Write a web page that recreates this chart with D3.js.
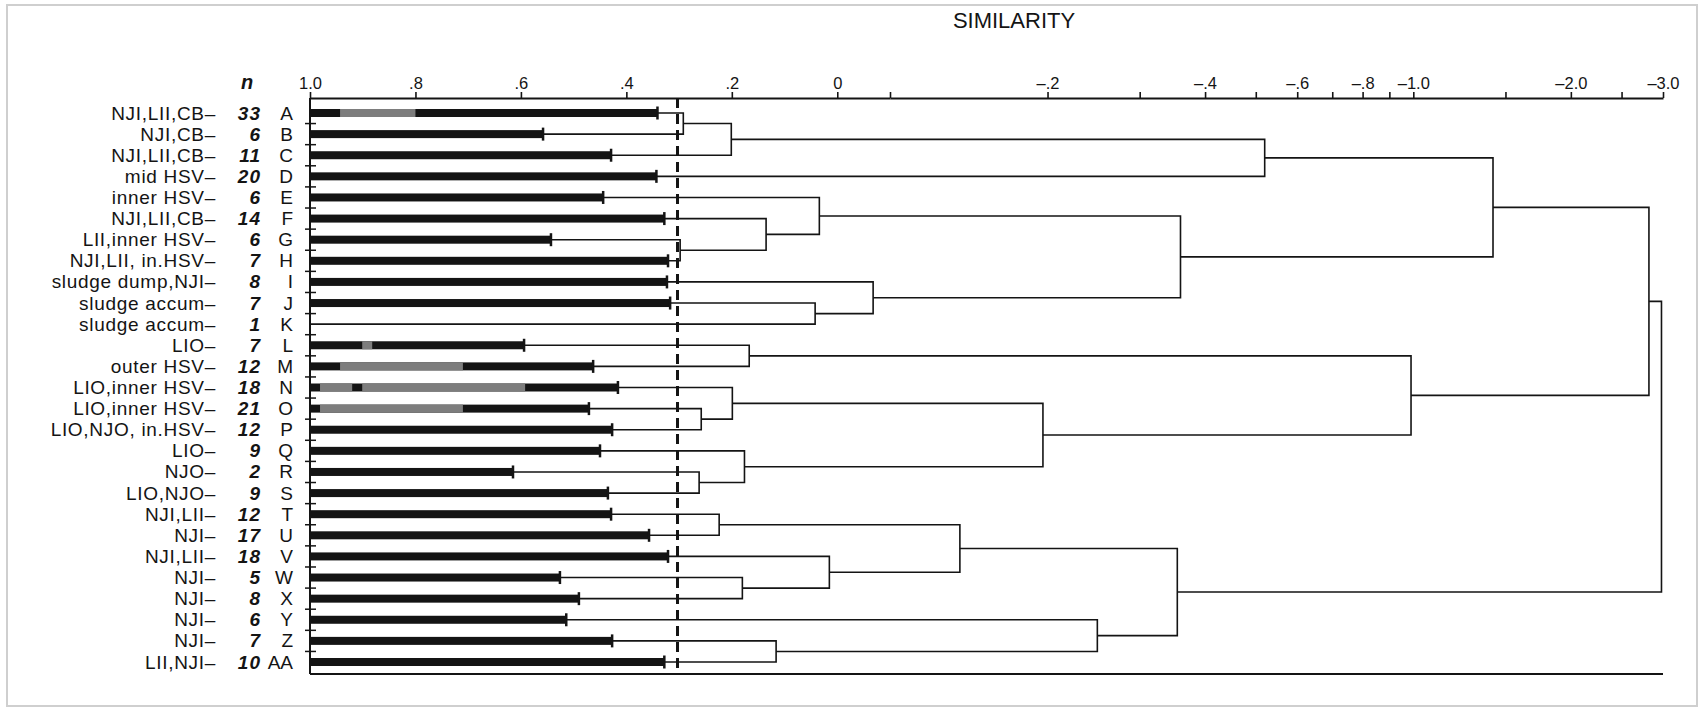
<!DOCTYPE html>
<html><head><meta charset="utf-8">
<script src="https://cdn.jsdelivr.net/npm/d3@7"></script>
<style>
body{margin:0;background:#fff}
svg{display:block;font-family:"Liberation Sans",Arial,Helvetica,sans-serif}
</style>
</head><body>
<svg id="c" width="1706" height="712"></svg>
<script>
// ---- data ----
const letters = ["A","B","C","D","E","F","G","H","I","J","K","L","M","N","O","P","Q","R","S","T","U","V","W","X","Y","Z","AA"];
const groups = ["NJI,LII,CB–","NJI,CB–","NJI,LII,CB–","mid HSV–","inner HSV–","NJI,LII,CB–","LII,inner HSV–","NJI,LII, in.HSV–","sludge dump,NJI–","sludge accum–","sludge accum–","LIO–","outer HSV–","LIO,inner HSV–","LIO,inner HSV–","LIO,NJO, in.HSV–","LIO–","NJO–","LIO,NJO–","NJI,LII–","NJI–","NJI,LII–","NJI–","NJI–","NJI–","NJI–","LII,NJI–"];
const nValues = [33,6,11,20,6,14,6,7,8,7,1,7,12,18,21,12,9,2,9,12,17,18,5,8,6,7,10];
// mean within-group similarity (null = single sample, no bar)
const means = [0.341,0.558,0.429,0.343,0.444,0.328,0.543,0.321,0.323,0.317,null,0.594,0.463,0.416,0.471,0.427,0.450,0.615,0.435,0.429,0.357,0.321,0.526,0.490,0.514,0.427,0.328];
// gray (halftone) parts of bars: letter, from, to (similarity)
const grayRows = ["A","L","M","N","N","O"];
const grayFrom = [0.943,0.901,0.943,0.981,0.901,0.981];
const grayTo   = [0.800,0.882,0.710,0.920,0.592,0.710];
// dendrogram merges: left child, right child, similarity of fusion
const merges = [
  ["A","B",0.292],["m0","C",0.201],["m1","D",-0.52],
  ["G","H",0.298],["F","m3",0.135],["E","m4",0.034],
  ["J","K",0.042],["I","m6",-0.068],["m5","m7",-0.359],
  ["m2","m8",-1.42],
  ["L","M",0.167],["O","P",0.258],["N","m11",0.199],
  ["R","S",0.262],["Q","m13",0.176],["m12","m14",-0.196],
  ["m10","m15",-0.99],["m9","m16",-2.82],
  ["T","U",0.224],["W","X",0.180],["V","m19",0.015],["m18","m20",-0.136],
  ["Z","AA",0.116],["Y","m22",-0.249],["m21","m23",-0.354],
  ["m17","m24",-2.98]
];
const linTicks = [1,0.8,0.6,0.4,0.2,0,-0.1];
const linTickLabels = ["1.0",".8",".6",".4",".2","0",""];
const logTicks = [0.2,0.3,0.4,0.5,0.6,0.7,0.8,0.9,1,1.5,2,2.5,3];
const logTickLabels = ["–.2","","–.4","","–.6","","–.8","","–1.0","","–2.0","","–3.0"];
const cutoff = 0.303;

// ---- scales ----
const axisY = 98, bottomY = 674;
const xLin = d3.scaleLinear().domain([1,-0.1]).range([310,890]);
const xLog = d3.scaleLog().domain([0.1,3]).range([890,1663]);
const x = s => s >= -0.1 ? xLin(s) : xLog(-s);
const y = d3.scalePoint().domain(letters).range([113,662]);

const svg = d3.select("#c");
const ink = "#141414";

// frame
svg.append("rect").attr("x",7).attr("y",5).attr("width",1690).attr("height",701)
  .attr("fill","none").attr("stroke","#cfcfcf").attr("stroke-width",2);

// title
svg.append("text").attr("x",1014).attr("y",28).attr("text-anchor","middle")
  .attr("font-size",22).attr("fill",ink).text("SIMILARITY");

// axes
function styleAxis(g){
  g.selectAll("path.domain").attr("stroke",ink).attr("stroke-width",2);
  g.selectAll(".tick line").attr("stroke",ink).attr("stroke-width",1.6);
  g.selectAll(".tick text").attr("font-size",16.5).attr("fill",ink)
    .attr("font-family","'Liberation Sans',Arial,sans-serif");
}
const gLin = svg.append("g").attr("transform",`translate(0,${axisY})`)
  .call(d3.axisTop(xLin).tickValues(linTicks).tickFormat((d,i)=>linTickLabels[i])
        .tickSize(6).tickSizeOuter(0).tickPadding(3));
styleAxis(gLin);
const gLog = svg.append("g").attr("transform",`translate(0,${axisY})`)
  .call(d3.axisTop(xLog).tickValues(logTicks).tickFormat((d,i)=>logTickLabels[i])
        .tickSize(6).tickSizeOuter(0).tickPadding(3));
styleAxis(gLog);

// left axis line and row ticks
svg.append("line").attr("x1",x(1)).attr("x2",x(1)).attr("y1",axisY).attr("y2",bottomY)
  .attr("stroke",ink).attr("stroke-width",2);
for(let i=0;i<letters.length-1;i++){
  const yy=(y(letters[i])+y(letters[i+1]))/2;
  svg.append("line").attr("x1",x(1)-5).attr("x2",x(1)+6).attr("y1",yy).attr("y2",yy)
    .attr("stroke",ink).attr("stroke-width",1.5);
}
// bottom line
svg.append("line").attr("x1",x(1)).attr("x2",x(-3)).attr("y1",bottomY).attr("y2",bottomY)
  .attr("stroke",ink).attr("stroke-width",2);

// labels
const lab = svg.append("g").attr("fill",ink);
lab.append("text").attr("x",247).attr("y",89).attr("text-anchor","middle")
  .attr("font-size",20).attr("font-style","italic").attr("font-weight","bold").text("n");
letters.forEach((L,i)=>{
  const yy=y(L)+6.5;
  lab.append("text").attr("x",216).attr("y",yy).attr("text-anchor","end")
    .attr("font-size",19).attr("letter-spacing",0.7).text(groups[i]);
  lab.append("text").attr("x",261).attr("y",yy).attr("text-anchor","end")
    .attr("font-size",19).attr("font-style","italic").attr("font-weight","bold").attr("letter-spacing",1).text(nValues[i]);
  lab.append("text").attr("x",293).attr("y",yy).attr("text-anchor","end")
    .attr("font-size",19).text(L);
});

// bars
letters.forEach((L,i)=>{
  const m = means[i];
  if(m==null) return;
  svg.append("rect").attr("x",x(1)).attr("y",y(L)-4).attr("width",x(m)-x(1)).attr("height",8).attr("fill",ink);
  svg.append("line").attr("x1",x(m)).attr("x2",x(m)).attr("y1",y(L)-6.5).attr("y2",y(L)+6.5)
    .attr("stroke",ink).attr("stroke-width",2.5);
});
grayRows.forEach((L,i)=>{
  svg.append("rect").attr("x",x(grayFrom[i])).attr("y",y(L)-4)
    .attr("width",x(grayTo[i])-x(grayFrom[i])).attr("height",8).attr("fill","#7d7d7d");
});

// dendrogram
const pos = {};
letters.forEach((L,i)=>{ pos[L] = {x: means[i]==null ? x(1) : x(means[i]), y: y(L)}; });
const dg = svg.append("g").attr("stroke",ink).attr("stroke-width",1.6).attr("fill","none");
merges.forEach((m,k)=>{
  const a=pos[m[0]], b=pos[m[1]], nx=x(m[2]);
  dg.append("path").attr("d",`M${a.x},${a.y}H${nx}V${b.y}H${b.x}`);
  pos["m"+k] = {x:nx, y:(a.y+b.y)/2};
});

// cutoff dashed line
svg.append("line").attr("x1",x(cutoff)).attr("x2",x(cutoff)).attr("y1",axisY).attr("y2",bottomY)
  .attr("stroke",ink).attr("stroke-width",3).attr("stroke-dasharray","10,6");
</script>
</body></html>
